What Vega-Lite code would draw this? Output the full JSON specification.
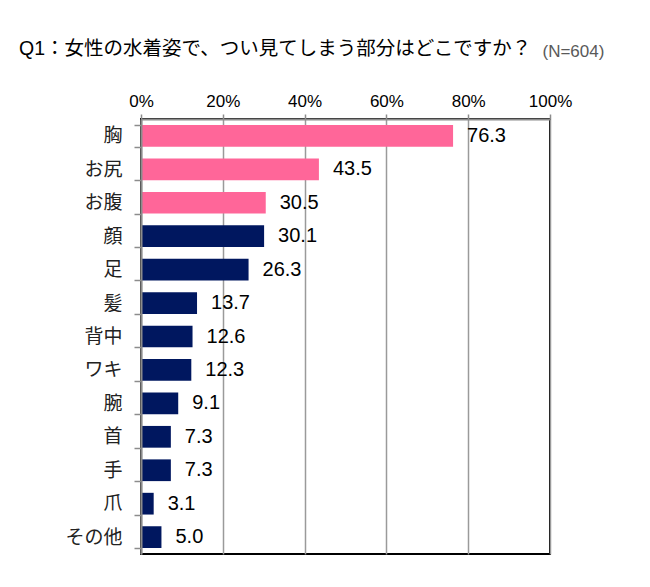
{
  "$schema": "https://vega.github.io/schema/vega-lite/v6.json",
  "autosize": "none",
  "width": 409,
  "height": 435,
  "padding": {"left": 141, "top": 119, "right": 100, "bottom": 33},
  "background": "white",
  "config": {
    "font": "Liberation Sans, Noto Sans CJK JP",
    "view": {"stroke": "#000000", "strokeWidth": 2}
  },
  "title": {
    "text": "Q1：女性の水着姿で、つい見てしまう部分はどこですか？",
    "anchor": "start",
    "frame": "group",
    "dx": -122,
    "offset": -17,
    "fontSize": 19.5,
    "fontWeight": "normal",
    "color": "#000000",
    "font": "Liberation Sans, Noto Sans CJK JP"
  },
  "data": {
    "values": [
      {"item": "胸", "value": 76.3, "group": "top"},
      {"item": "お尻", "value": 43.5, "group": "top"},
      {"item": "お腹", "value": 30.5, "group": "top"},
      {"item": "顔", "value": 30.1, "group": "other"},
      {"item": "足", "value": 26.3, "group": "other"},
      {"item": "髪", "value": 13.7, "group": "other"},
      {"item": "背中", "value": 12.6, "group": "other"},
      {"item": "ワキ", "value": 12.3, "group": "other"},
      {"item": "腕", "value": 9.1, "group": "other"},
      {"item": "首", "value": 7.3, "group": "other"},
      {"item": "手", "value": 7.3, "group": "other"},
      {"item": "爪", "value": 3.1, "group": "other"},
      {"item": "その他", "value": 5.0, "group": "other"}
    ]
  },
  "encoding": {
    "y": {
      "field": "item",
      "type": "nominal",
      "sort": null,
      "scale": {"paddingInner": 0.35, "paddingOuter": 0.18},
      "axis": {
        "title": null,
        "tickBand": "extent",
        "domainColor": "#8c8c8c",
        "domainWidth": 2,
        "tickColor": "#8c8c8c",
        "tickWidth": 1.5,
        "tickSize": 7,
        "labelFontSize": 19,
        "labelColor": "#222222",
        "labelPadding": 12,
        "labelFont": "Noto Sans CJK JP",
        "zindex": 1
      }
    },
    "x": {
      "field": "value",
      "type": "quantitative",
      "scale": {"domain": [0, 100]},
      "axis": {
        "orient": "top",
        "title": "(N=604)",
        "titleFontSize": 17,
        "titleFontWeight": "normal",
        "titleColor": "#595959",
        "titleAlign": "left",
        "titleAnchor": null,
        "titleBaseline": "alphabetic",
        "titleX": 401,
        "titleY": -63,
        "values": [0, 20, 40, 60, 80, 100],
        "labelExpr": "datum.value + '%'",
        "labelFlush": false,
        "labelFontSize": 17,
        "labelColor": "#000000",
        "labelPadding": 4,
        "domainColor": "#8c8c8c",
        "domainWidth": 2,
        "tickColor": "#8c8c8c",
        "tickWidth": 1.5,
        "tickSize": 5,
        "grid": true,
        "gridColor": "#9a9a9a",
        "gridWidth": 1.5,
        "zindex": 0
      }
    }
  },
  "layer": [
    {
      "mark": {"type": "bar"},
      "encoding": {
        "color": {
          "field": "group",
          "type": "nominal",
          "scale": {"domain": ["top", "other"], "range": ["#ff6699", "#00175f"]},
          "legend": null
        }
      }
    },
    {
      "mark": {"type": "text", "align": "left", "baseline": "middle", "dx": 14, "fontSize": 20, "color": "#000000"},
      "encoding": {
        "text": {"field": "value", "type": "quantitative", "format": ".1f"}
      }
    }
  ]
}
